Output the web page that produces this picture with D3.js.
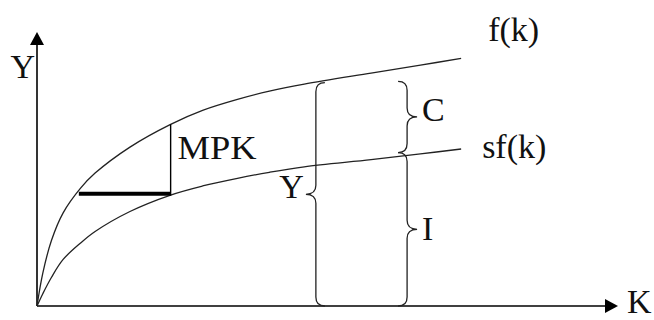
<!DOCTYPE html>
<html>
<head>
<meta charset="utf-8">
<script src="https://cdn.jsdelivr.net/npm/d3@7"></script>
<style>
  body { margin: 0; background: #fff; }
  svg { display: block; }
  text { font-family: "Liberation Serif", "Times New Roman", serif; font-size: 34px; fill: #111; }
</style>
</head>
<body>
<svg width="654" height="320"></svg>
<script>
// capital per worker (axis runs 0..10)
const kVals  = [0, 0.1, 0.25, 0.45, 0.75, 1.0, 1.6, 2.3, 2.85, 3.45, 4.0, 4.6, 5.75, 6.6, 7.3];
// output f(k) and saving sf(k) at those k
const fVals  = [0, 1.2, 2.4, 3.4, 4.3, 4.85, 5.8, 6.63, 7.14, 7.54, 7.84, 8.1, 8.5, 8.79, 9.04];
const sfVals = [0, 0.45, 1.05, 1.7, 2.3, 2.72, 3.45, 4.05, 4.38, 4.66, 4.88, 5.08, 5.34, 5.55, 5.73];

// MPK step: horizontal run from k0 to k1 at level, then up to the curve
const mpkK = [0.72, 2.3];
const mpkLevel = 4.1;

// braces: [k, bottom, top]
const yBrace = [4.8, 0, 8.15];
const cBrace = [6.37, 5.6, 8.2];
const iBrace = [6.37, 0, 5.6];

const svg = d3.select("svg");

// origin sits at (37, 306), arrows end at the far edge of the domain
const x = d3.scaleLinear().domain([0, 10]).range([37, 618]);
const y = d3.scaleLinear().domain([0, 10]).range([306, 32]);

const g = svg.append("g");

// axes with arrow heads
g.append("line")
  .attr("x1", x(0)).attr("y1", y(0))
  .attr("x2", x(0)).attr("y2", y(10) + 8)
  .attr("stroke", "#000").attr("stroke-width", 1.6);
g.append("line")
  .attr("x1", x(0)).attr("y1", y(0))
  .attr("x2", x(10) - 8).attr("y2", y(0))
  .attr("stroke", "#000").attr("stroke-width", 1.6);

g.append("path")
  .attr("d", `M${x(0)},${y(10)} L${x(0) - 7},${y(10) + 13} L${x(0) + 7},${y(10) + 13} Z`)
  .attr("fill", "#000");
g.append("path")
  .attr("d", `M${x(10)},${y(0)} L${x(10) - 13},${y(0) - 7} L${x(10) - 13},${y(0) + 7} Z`)
  .attr("fill", "#000");

// curves
const line = d3.line()
  .x(d => x(d[0]))
  .y(d => y(d[1]))
  .curve(d3.curveCatmullRom.alpha(0.5));

g.append("path")
  .datum(kVals.map((k, i) => [k, fVals[i]]))
  .attr("d", line)
  .attr("fill", "none").attr("stroke", "#222").attr("stroke-width", 1.3);

g.append("path")
  .datum(kVals.map((k, i) => [k, sfVals[i]]))
  .attr("d", line)
  .attr("fill", "none").attr("stroke", "#222").attr("stroke-width", 1.3);

// f at a given k (straight interpolation between read points)
function fAt(k) {
  const i = d3.bisectLeft(kVals, k);
  if (i <= 0) return fVals[0];
  const t = (k - kVals[i - 1]) / (kVals[i] - kVals[i - 1]);
  return fVals[i - 1] + t * (fVals[i] - fVals[i - 1]);
}

// MPK triangle: thick run, thin rise
g.append("line")
  .attr("x1", x(mpkK[0])).attr("y1", y(mpkLevel))
  .attr("x2", x(mpkK[1])).attr("y2", y(mpkLevel))
  .attr("stroke", "#000").attr("stroke-width", 4);
g.append("line")
  .attr("x1", x(mpkK[1])).attr("y1", y(mpkLevel) + 2)
  .attr("x2", x(mpkK[1])).attr("y2", y(fAt(mpkK[1])))
  .attr("stroke", "#000").attr("stroke-width", 1.4);

// curly brace, dir = -1 points left, +1 points right
function brace(bx, yTop, yBot, dir) {
  const c = 9, t = 10, r = 9;
  const mid = (yTop + yBot) / 2;
  return `M${bx - dir * c},${yTop}` +
    ` Q${bx},${yTop} ${bx},${yTop + r}` +
    ` L${bx},${mid - r}` +
    ` Q${bx},${mid} ${bx + dir * t},${mid}` +
    ` Q${bx},${mid} ${bx},${mid + r}` +
    ` L${bx},${yBot - r}` +
    ` Q${bx},${yBot} ${bx - dir * c},${yBot}`;
}

[[yBrace, -1], [cBrace, 1], [iBrace, 1]].forEach(([b, dir]) => {
  g.append("path")
    .attr("d", brace(x(b[0]), y(b[2]), y(b[1]), dir))
    .attr("fill", "none").attr("stroke", "#222").attr("stroke-width", 1.3);
});

// labels
const last = kVals.length - 1;
g.append("text").attr("x", x(0) - 2).attr("y", y(10) + 46).attr("text-anchor", "end").text("Y");
g.append("text").attr("x", x(10) + 9).attr("y", y(0) + 7).text("K");
g.append("text").attr("x", x(kVals[last]) + 27).attr("y", y(fVals[last]) - 17).text("f(k)");
g.append("text").attr("x", x(kVals[last]) + 21).attr("y", y(sfVals[last]) + 9).text("sf(k)");
g.append("text").attr("x", x(mpkK[1]) + 7).attr("y", y(fAt(mpkK[1])) + 35)
  .attr("textLength", 79).attr("lengthAdjust", "spacingAndGlyphs").text("MPK");

const midY = b => (y(b[1]) + y(b[2])) / 2;
g.append("text").attr("x", x(yBrace[0]) - 12).attr("y", midY(yBrace) + 4).attr("text-anchor", "end").text("Y");
g.append("text").attr("x", x(cBrace[0]) + 15).attr("y", midY(cBrace) + 4).text("C");
g.append("text").attr("x", x(iBrace[0]) + 15).attr("y", midY(iBrace) + 11).text("I");
</script>
</body>
</html>
